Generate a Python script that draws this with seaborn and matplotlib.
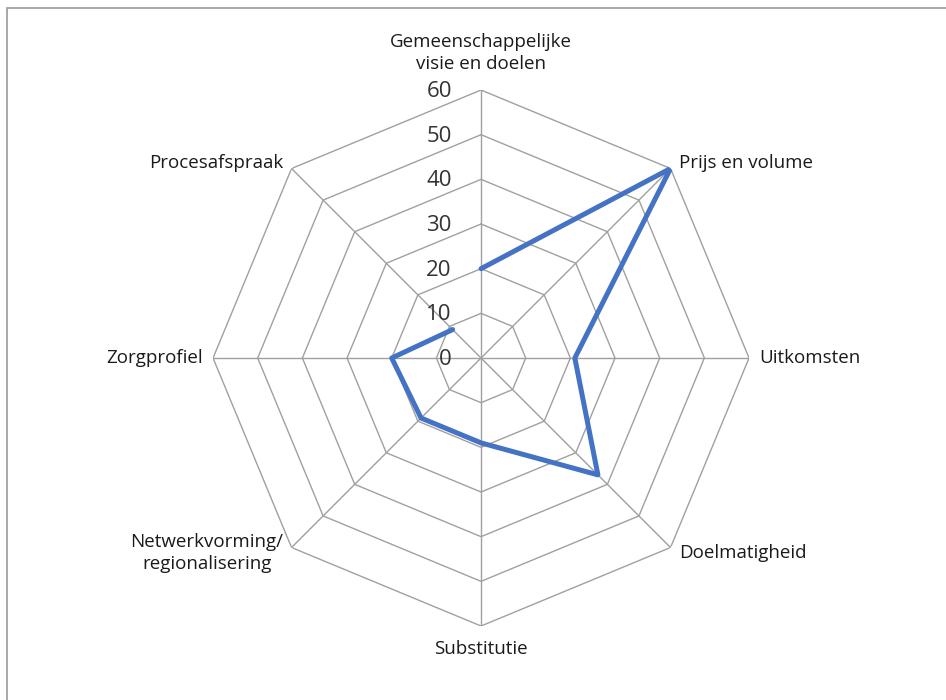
"""
Radar chart: scores per category of agreements
"""
import numpy as np
import pandas as pd
import matplotlib
matplotlib.use("Agg")
import matplotlib.pyplot as plt
import seaborn as sns
from matplotlib.patches import Rectangle

# Data
categories = ['Gemeenschappelijke\nvisie en doelen', 'Prijs en volume', 'Uitkomsten',
              'Doelmatigheid', 'Substitutie', 'Netwerkvorming/\nregionalisering',
              'Zorgprofiel', 'Procesafspraak']
values = [20, 60, 21, 37, 19, 19, 20, 9]
ring_levels = [0, 10, 20, 30, 40, 50, 60]

sns.set_style("white")
plt.rcParams['font.family'] = ['Open Sans', 'DejaVu Sans']

n = len(categories)
angles = np.linspace(0, 2 * np.pi, n, endpoint=False)

fig = plt.figure(figsize=(9.46, 7.0), dpi=100)
ax = fig.add_axes([0.2252, 0.1057, 0.5666, 0.7657], projection='polar')
ax.set_theta_offset(np.pi / 2)
ax.set_theta_direction(-1)
ax.set_ylim(0, 60)
ax.grid(False)
ax.spines['polar'].set_visible(False)
ax.set_xticks([])
ax.set_yticks([])

grid_col = '#a0a0a0'
# octagonal rings
closed = np.append(angles, angles[0])
for lvl in ring_levels[1:]:
    ax.plot(closed, [lvl] * len(closed), color=grid_col, lw=1.0, zorder=1)
# spokes
for a in angles:
    ax.plot([a, a], [0, 60], color=grid_col, lw=1.0, zorder=1)

# data series
df = pd.DataFrame({'angle': np.append(angles, angles[0]),
                   'value': values + values[:1]})
sns.lineplot(data=df, x='angle', y='value', sort=False, ax=ax,
             color='#4472c4', lw=3.6, zorder=3)
ax.set_xlabel('')
ax.set_ylabel('')
ax.set_ylim(0, 60)

# radial tick labels
for lvl in ring_levels:
    ax.annotate(str(lvl), xy=(0, lvl), xytext=(-21, -1), textcoords='offset points',
                ha='right', va='center', fontsize=16, color='#333333')

# category labels
label_fmt = [
    dict(off=(0, 12), ha='center', va='bottom'),
    dict(off=(6, 4), ha='left', va='center'),
    dict(off=(7, 0), ha='left', va='center'),
    dict(off=(6, -4), ha='left', va='center'),
    dict(off=(0, -10), ha='center', va='top'),
    dict(off=(-6, -4), ha='right', va='center'),
    dict(off=(-7, 0), ha='right', va='center'),
    dict(off=(-6, 4), ha='right', va='center'),
]
for a, lab, f in zip(angles, categories, label_fmt):
    ax.annotate(lab, xy=(a, 60), xytext=f['off'], textcoords='offset points',
                ha=f['ha'], va=f['va'], fontsize=13.5, color='#1a1a1a',
                linespacing=1.3, multialignment='center')

# chart frame
fig.patches.append(Rectangle((0.007, -0.1), 1.5, 0.1 + 1 - 8 / 700,
                             transform=fig.transFigure, fill=False,
                             edgecolor='#9a9a9a', lw=1.2))

fig.savefig('out.png', dpi=100)
